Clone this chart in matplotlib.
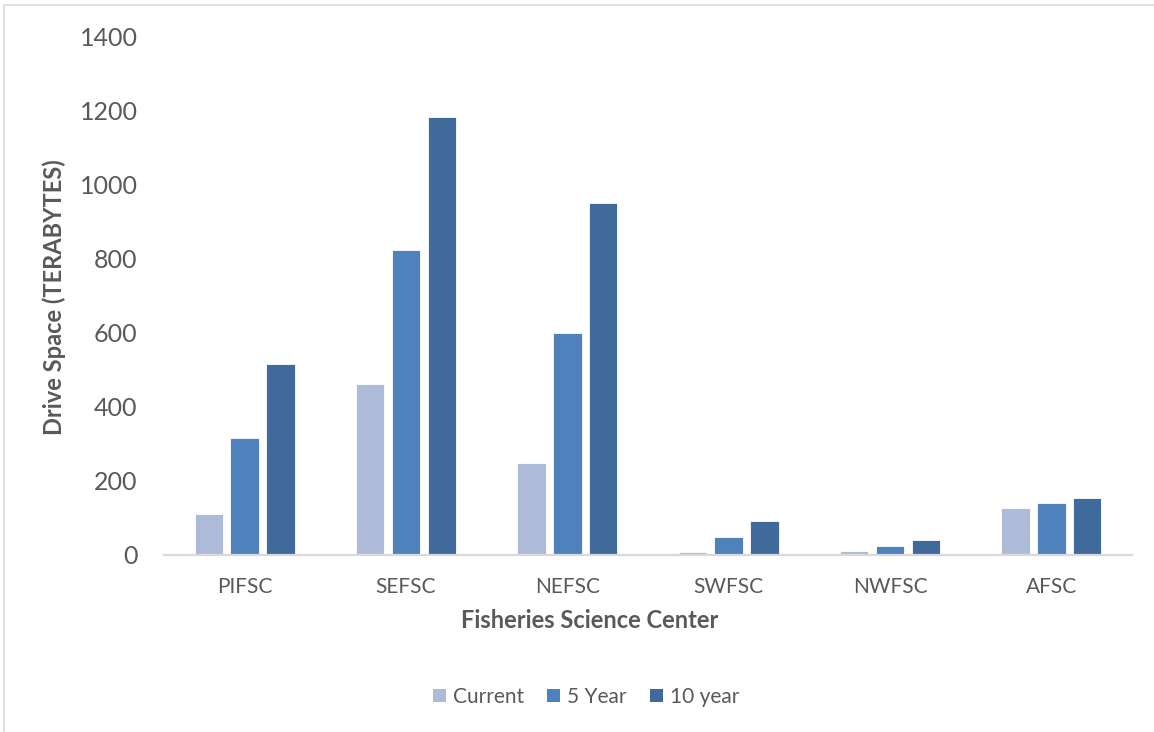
import matplotlib
matplotlib.use("Agg")
import matplotlib.pyplot as plt
import numpy as np
from matplotlib.patches import Patch, Rectangle

categories = ["PIFSC", "SEFSC", "NEFSC", "SWFSC", "NWFSC", "AFSC"]
current = [111, 463, 249, 9, 10, 126]
five_year = [315, 824, 600, 50, 25, 141]
ten_year = [517, 1183, 951, 91, 40, 154]
series_names = ["Current", "5 Year", "10 year"]
colors = ["#ADBBD9", "#4F81BD", "#3F6A9B"]
yticks = [0, 200, 400, 600, 800, 1000, 1200, 1400]

plt.rcParams['font.family'] = ['Lato', 'DejaVu Sans']
txt = "#595959"

W, H = 1154, 732
fig = plt.figure(figsize=(W / 100, H / 100), dpi=100)
fig.patches.append(Rectangle((4 / W, -0.1), 1.2, 1 - 5 / H + 0.1, transform=fig.transFigure,
                             fill=False, edgecolor="#D9D9D9", linewidth=1.2))

ax = fig.add_axes([164 / W, 1 - 555 / H, (1132 - 164) / W, (555 - 37) / H])
x = np.arange(len(categories))
step = 0.222
width = 0.176
for i, (vals, c) in enumerate(zip([current, five_year, ten_year], colors)):
    ax.bar(x + (i - 1) * step, vals, width=width, color=c, edgecolor="white", linewidth=0.6,
           label=series_names[i], zorder=2)

ax.set_xlim(-0.5, len(categories) - 0.5)
ax.set_ylim(0, 1400)
ax.set_yticks(yticks)
ax.set_yticklabels([str(v) for v in yticks], fontsize=18, color=txt)
ax.set_xticks(x)
ax.set_xticklabels(categories, fontsize=15, color=txt)
ax.tick_params(axis="y", length=0, pad=19)
ax.tick_params(axis="x", length=0, pad=16)
for s in ["top", "right", "left"]:
    ax.spines[s].set_visible(False)
ax.spines["bottom"].set_color("#D9D9D9")
ax.spines["bottom"].set_linewidth(1.6)

fig.text(590 / W, 1 - 621 / H, "Fisheries Science Center", ha="center", va="center",
         fontsize=17, fontweight="bold", color=txt)
fig.text(54 / W, 1 - 297 / H, "Drive Space (TERABYTES)", ha="center", va="center",
         rotation=90, fontsize=17, fontweight="bold", color=txt)

handles = [Patch(facecolor=c, edgecolor="none") for c in colors]
fig.legend(handles, series_names, loc="center", bbox_to_anchor=(586 / W, 1 - 697 / H),
           ncol=3, frameon=False, fontsize=15, labelcolor=txt,
           handlelength=0.62, handleheight=0.62, handletextpad=0.35, columnspacing=1.1)

fig.savefig("out.png", dpi=100)
